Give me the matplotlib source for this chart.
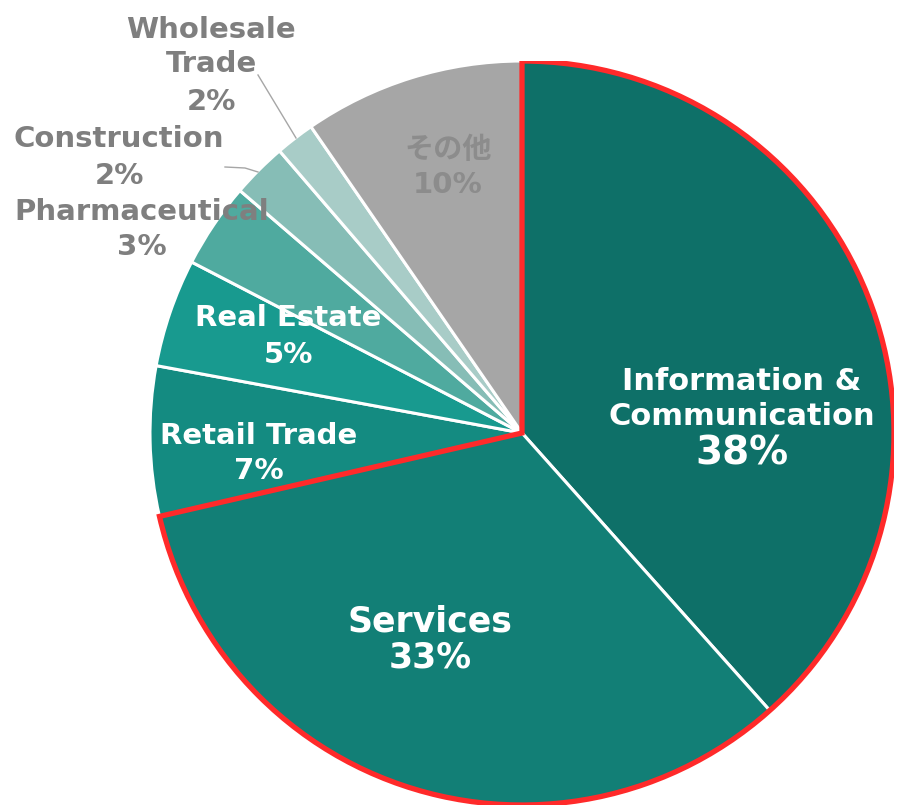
import matplotlib.pyplot as plt
from matplotlib.patches import Wedge

plt.rcParams['font.family'] = ['DejaVu Sans', 'Noto Sans CJK JP']

# data (clockwise from 12 o'clock)
names = ['Information &\nCommunication', 'Services', 'Retail Trade', 'Real Estate',
         'Pharmaceutical', 'Construction', 'Wholesale\nTrade', 'その他']
values = [38.4, 33.0, 6.5, 4.7, 3.7, 2.4, 1.7, 9.6]
pct_labels = ['38%', '33%', '7%', '5%', '3%', '2%', '2%', '10%']
colors = ['#0E7068', '#127F76', '#148B81', '#189A8F', '#4FAA9F', '#86BDB6', '#A8CCC7', '#A6A6A6']

W, H = 897, 808
cx, cy, R = 522, 433, 372

fig = plt.figure(figsize=(W / 100, H / 100), dpi=100)
ax = fig.add_axes([(cx - R) / W, (H - cy - R) / H, 2 * R / W, 2 * R / H])
ax.pie(values, colors=colors, startangle=90, counterclock=False, radius=1,
       wedgeprops=dict(edgecolor='white', linewidth=2.2))
ax.set_xlim(-1, 1)
ax.set_ylim(-1, 1)
ax.set_aspect('equal')
ax.axis('off')

# red outline round the first two slices
frac = (values[0] + values[1]) / sum(values)
ax.add_patch(Wedge((0, 0), 1, 90 - 360 * frac, 90, fill=False,
                   edgecolor='#FF2A2A', linewidth=3.8, joinstyle='miter', zorder=5))

# label layout in pixels: x, name y, pct y, name size, pct size, color, line spacing
layout = [
    (742, 399, 453, 22, 28, 'white', 1.3),
    (430, 621, 657, 25, 25, 'white', 1.0),
    (259, 436, 471, 21, 21, 'white', 1.0),
    (288, 318, 355, 21, 21, 'white', 1.0),
    (142, 212, 247, 21, 21, '#7F7F7F', 1.0),
    (119, 139, 176, 21, 21, '#7F7F7F', 1.0),
    (211, 47, 102, 21, 21, '#7F7F7F', 1.25),
    (448, 150, 185, 21, 21, '#8C8C8C', 1.0),
]
for name, pct, (x, yn, yp, sn, sp, c, ls) in zip(names, pct_labels, layout):
    fig.text(x / W, 1 - yn / H, name, ha='center', va='center', fontsize=sn,
             fontweight='bold', color=c, linespacing=ls, zorder=6)
    fig.text(x / W, 1 - yp / H, pct, ha='center', va='center', fontsize=sp,
             fontweight='bold', color=c, zorder=6)

# leader lines
fig.add_artist(plt.Line2D([258 / W, 296 / W], [1 - 75 / H, 1 - 138 / H],
                          color='#A6A6A6', lw=1))
fig.add_artist(plt.Line2D([225 / W, 245 / W, 258 / W], [1 - 167 / H, 1 - 168 / H, 1 - 172 / H],
                          color='#A6A6A6', lw=1))

plt.savefig('out.png', dpi=100)
